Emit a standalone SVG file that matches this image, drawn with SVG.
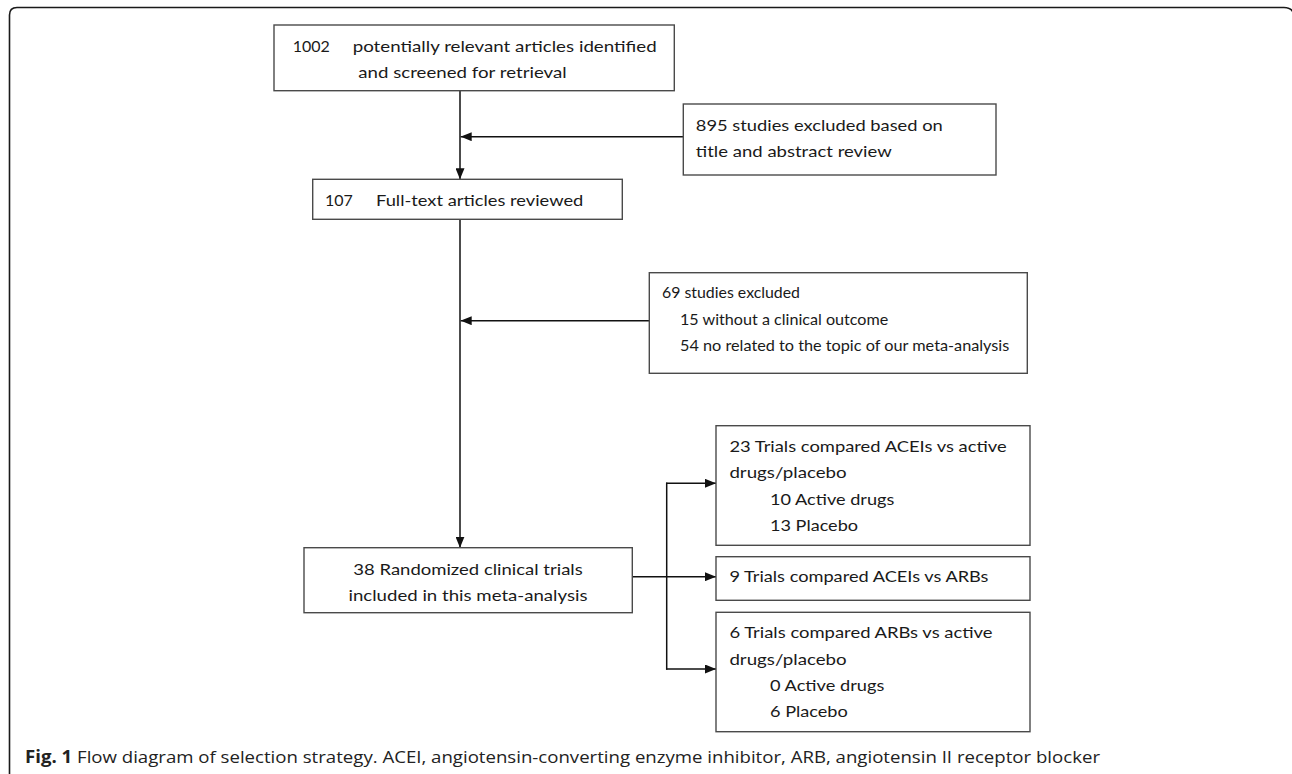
<svg xmlns="http://www.w3.org/2000/svg" width="1292" height="774" viewBox="0 0 1292 774">
<style>
.box{fill:#fff;stroke:#4a4a4a;stroke-width:1.4}
.t{font-family:Lato,"Open Sans","Liberation Sans",sans-serif;font-size:16px;fill:#1a1a1a}
.s{font-size:15px}
.ln{fill:none;stroke:#111;stroke-width:1.5}
.cap{font-family:"Open Sans","Liberation Sans",sans-serif;font-size:17px;fill:#222}
</style>
<defs>
<marker id="ah" markerUnits="userSpaceOnUse" markerWidth="11" markerHeight="9" refX="11" refY="4.5" orient="auto">
<path d="M0,0 L11,4.5 L0,9 z" fill="#111"/>
</marker>
</defs>
<rect width="1292" height="774" fill="#fff"/>
<path d="M9.5,776 V15 Q9.5,7.5 17,7.5 H1284 Q1292.5,7.5 1294,15" fill="none" stroke="#1a1a1a" stroke-width="1.6"/>

<g id="connectors">
<line class="ln" x1="460" y1="90.7" x2="460" y2="179.3" marker-end="url(#ah)"/>
<line class="ln" x1="683.3" y1="136.7" x2="460.7" y2="136.7" marker-end="url(#ah)"/>
<line class="ln" x1="460" y1="219.3" x2="460" y2="547.7" marker-end="url(#ah)"/>
<line class="ln" x1="649.3" y1="320.7" x2="460.7" y2="320.7" marker-end="url(#ah)"/>
<line class="ln" x1="632.3" y1="576.7" x2="716" y2="576.7" marker-end="url(#ah)"/>
<line class="ln" x1="666.7" y1="482.6" x2="666.7" y2="669.7"/>
<line class="ln" x1="666" y1="483.3" x2="716" y2="483.3" marker-end="url(#ah)"/>
<line class="ln" x1="666" y1="669" x2="716" y2="669" marker-end="url(#ah)"/>
</g>

<g id="n1002">
<rect class="box" x="274" y="25" width="400.3" height="65.7"/>
<text class="t" x="292.7" y="52.3">1002</text>
<text class="t" x="352.7" y="52.3" textLength="304" lengthAdjust="spacingAndGlyphs">potentially relevant articles identified</text>
<text class="t" x="358.3" y="78.3" textLength="208.4" lengthAdjust="spacingAndGlyphs">and screened for retrieval</text>
</g>

<g id="n895">
<rect class="box" x="683.3" y="104" width="312.7" height="71"/>
<text class="t" x="695.8" y="130.7" textLength="247" lengthAdjust="spacingAndGlyphs">895 studies excluded based on</text>
<text class="t" x="695.8" y="156.7" textLength="196" lengthAdjust="spacingAndGlyphs">title and abstract review</text>
</g>

<g id="n107">
<rect class="box" x="312.7" y="179.3" width="309.6" height="40"/>
<text class="t" x="325" y="206">107</text>
<text class="t" x="376" y="206" textLength="207.3" lengthAdjust="spacingAndGlyphs">Full-text articles reviewed</text>
</g>

<g id="n69">
<rect class="box" x="649.3" y="272.7" width="378" height="100.6"/>
<text class="t s" x="662" y="298.3" textLength="138" lengthAdjust="spacingAndGlyphs">69 studies excluded</text>
<text class="t s" x="680" y="325" textLength="208.3" lengthAdjust="spacingAndGlyphs">15 without a clinical outcome</text>
<text class="t s" x="680" y="350.7" textLength="329.3" lengthAdjust="spacingAndGlyphs">54 no related to the topic of our meta-analysis</text>
</g>

<g id="n38">
<rect class="box" x="304" y="547.7" width="328.3" height="65"/>
<text class="t" x="468" y="575" text-anchor="middle" textLength="229.4" lengthAdjust="spacingAndGlyphs">38 Randomized clinical trials</text>
<text class="t" x="468" y="600.7" text-anchor="middle" textLength="239" lengthAdjust="spacingAndGlyphs">included in this meta-analysis</text>
</g>

<g id="n23">
<rect class="box" x="716" y="425.7" width="314" height="119.6"/>
<text class="t" x="729.4" y="451.7" textLength="277.3" lengthAdjust="spacingAndGlyphs">23 Trials compared ACEIs vs active</text>
<text class="t" x="729.4" y="478.3" textLength="117.3" lengthAdjust="spacingAndGlyphs">drugs/placebo</text>
<text class="t" x="770" y="505" textLength="124.3" lengthAdjust="spacingAndGlyphs">10 Active drugs</text>
<text class="t" x="770" y="530.7" textLength="88" lengthAdjust="spacingAndGlyphs">13 Placebo</text>
</g>

<g id="n9">
<rect class="box" x="716" y="556.7" width="314" height="43.6"/>
<text class="t" x="729.4" y="581.7" textLength="259" lengthAdjust="spacingAndGlyphs">9 Trials compared ACEIs vs ARBs</text>
</g>

<g id="n6">
<rect class="box" x="716" y="612.3" width="314" height="119.4"/>
<text class="t" x="729.4" y="638.3" textLength="263.2" lengthAdjust="spacingAndGlyphs">6 Trials compared ARBs vs active</text>
<text class="t" x="729.4" y="665" textLength="117.3" lengthAdjust="spacingAndGlyphs">drugs/placebo</text>
<text class="t" x="770" y="691" textLength="114.3" lengthAdjust="spacingAndGlyphs">0 Active drugs</text>
<text class="t" x="770" y="716.7" textLength="77.8" lengthAdjust="spacingAndGlyphs">6 Placebo</text>
</g>

<g id="caption">
<text class="cap" x="25" y="763" textLength="1075" lengthAdjust="spacingAndGlyphs"><tspan font-weight="bold">Fig. 1</tspan> Flow diagram of selection strategy. ACEI, angiotensin-converting enzyme inhibitor, ARB, angiotensin II receptor blocker</text>
</g>
</svg>
